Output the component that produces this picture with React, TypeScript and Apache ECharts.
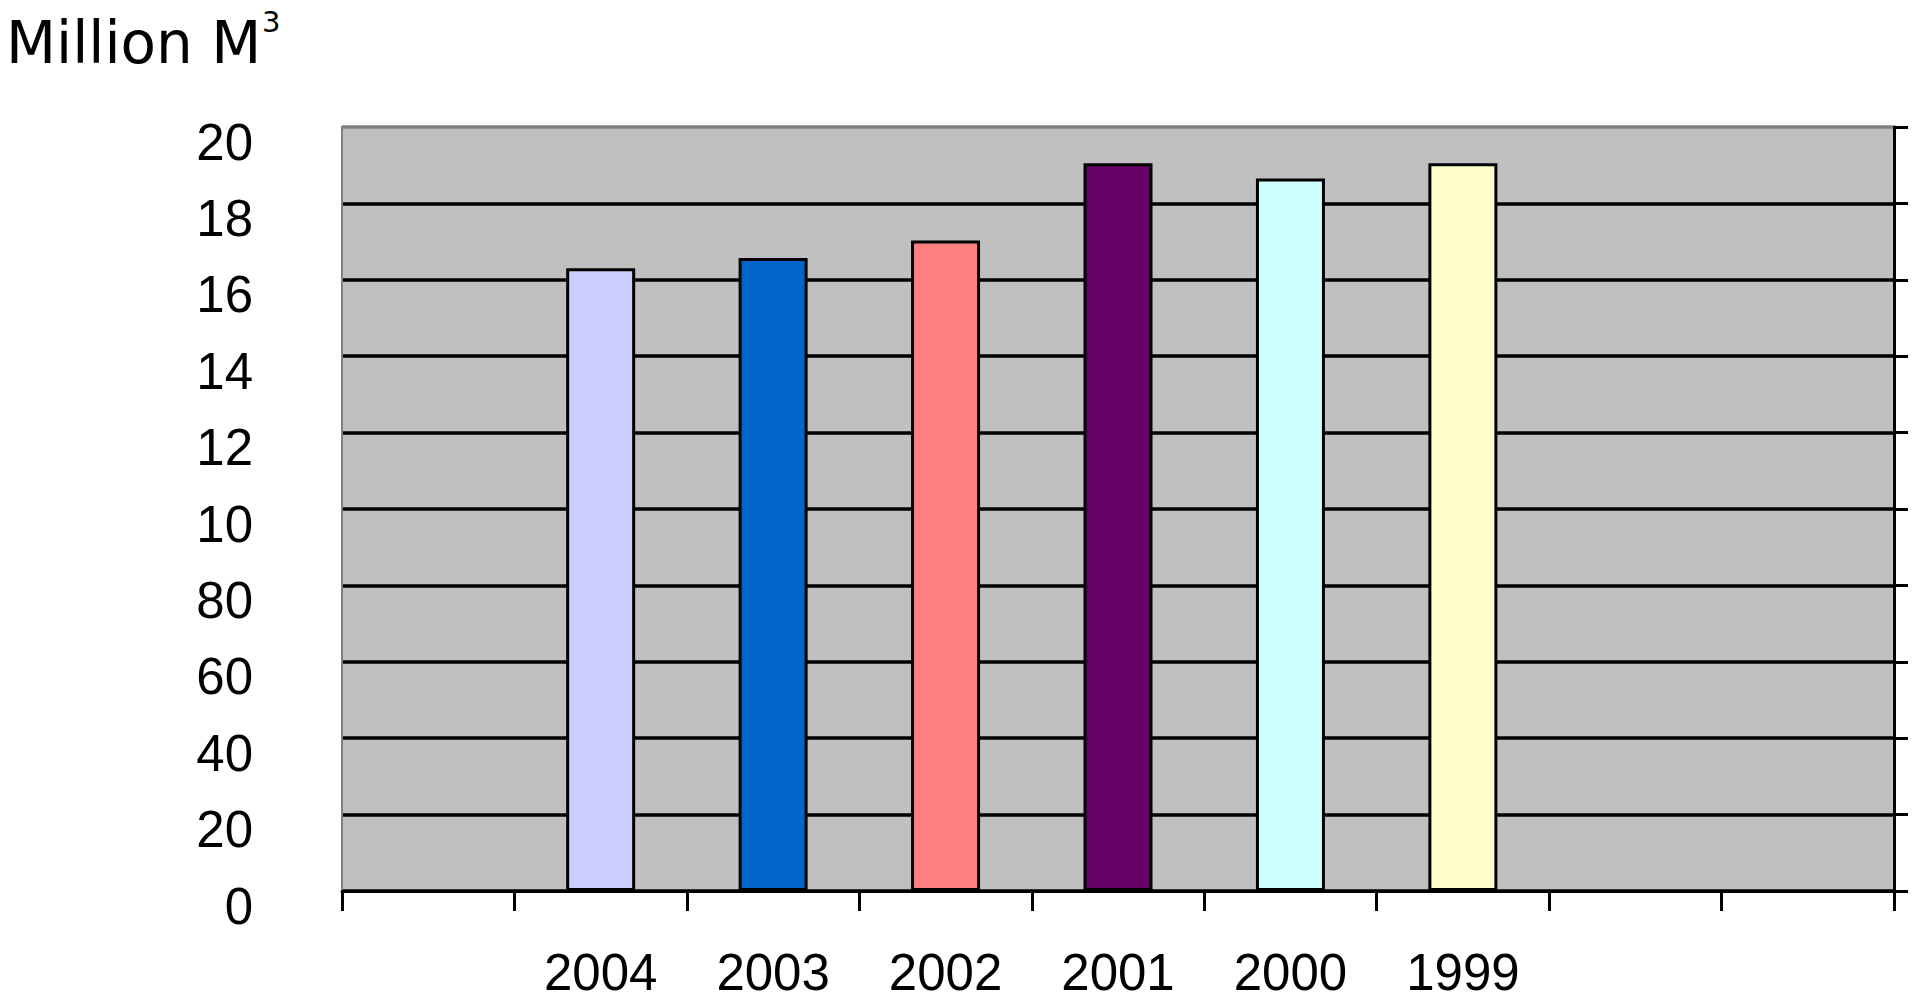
import React, { useEffect, useRef } from "react";
import * as echarts from "echarts";

const years = ["2004", "2003", "2002", "2001", "2000", "1999"];
const volumes = [163, 165.7, 170.3, 190.5, 186.5, 190.5];
const barColors = ["#CCCCFF", "#0066CC", "#FF8080", "#660066", "#CCFFFF", "#FFFFCC"];
const leadingEmpty = [""];
const trailingEmpty = ["", ""];
const yTickLabels = ["0", "20", "40", "60", "80", "10", "12", "14", "16", "18", "20"];
const yMin = 0;
const yMax = 200;
const yStep = 20;

export default function App() {
  const ref = useRef<HTMLDivElement>(null);
  useEffect(() => {
    if (!ref.current) return;
    const chart = echarts.init(ref.current, null, { renderer: "svg" });
    const categories = [...leadingEmpty, ...years, ...trailingEmpty];
    const data: any[] = [
      ...leadingEmpty.map(() => "-"),
      ...volumes.map((v, i) => ({ value: v, itemStyle: { color: barColors[i] } })),
      ...trailingEmpty.map(() => "-"),
    ];
    const splitColors = yTickLabels.map((_, i) => (i === yTickLabels.length - 1 ? "#808080" : "#000000"));
    chart.setOption({
      animation: false,
      backgroundColor: "#ffffff",
      grid: {
        left: 342,
        right: 18,
        top: 127,
        bottom: 109,
        show: true,
        backgroundColor: "#C0C0C0",
        borderColor: "#808080",
        borderWidth: 2,
      },
      graphic: [
        {
          type: "text",
          left: 6,
          top: 14,
          style: { text: "Million M", font: "58px 'DejaVu Sans'", fill: "#000" },
        },
        {
          type: "text",
          left: 262,
          top: 7,
          style: { text: "3", font: "29px 'DejaVu Sans'", fill: "#000" },
        },
      ],
      xAxis: {
        type: "category",
        data: categories,
        boundaryGap: true,
        axisLine: { show: true, lineStyle: { color: "#000", width: 3 } },
        axisTick: { show: true, alignWithLabel: false, length: 20, lineStyle: { color: "#000", width: 3 } },
        axisLabel: {
          fontFamily: "'Liberation Sans', Arial, sans-serif",
          fontSize: 51,
          color: "#000",
          margin: 56,
          interval: 0,
        },
        splitLine: { show: false },
      },
      yAxis: [
        {
          type: "value",
          min: yMin,
          max: yMax,
          interval: yStep,
          position: "left",
          axisLine: { show: true, lineStyle: { color: "#808080", width: 2 } },
          axisTick: { show: false },
          axisLabel: {
            fontFamily: "'Liberation Sans', Arial, sans-serif",
            fontSize: 51,
            color: "#000",
            margin: 89,
            verticalAlign: "top",
            lineHeight: 30,
            formatter: (v: number) => yTickLabels[Math.round((v - yMin) / yStep)],
          },
          splitLine: {
            show: true,
            lineStyle: { color: splitColors, width: 3.5 },
          },
        },
        {
          type: "value",
          min: yMin,
          max: yMax,
          interval: yStep,
          position: "right",
          axisLine: { show: true, lineStyle: { color: "#000", width: 3 } },
          axisTick: { show: true, inside: false, length: 14, lineStyle: { color: "#000", width: 3 } },
          axisLabel: { show: false },
          splitLine: { show: false },
        },
      ],
      series: [
        {
          type: "bar",
          data,
          barWidth: 69,
          yAxisIndex: 0,
          itemStyle: { borderColor: "#000", borderWidth: 3 },
        },
      ],
    });
    return () => chart.dispose();
  }, []);
  return (
    <div
      ref={ref}
      style={{ position: "absolute", left: 0, top: 0, width: 1912, height: 1000 }}
    />
  );
}
